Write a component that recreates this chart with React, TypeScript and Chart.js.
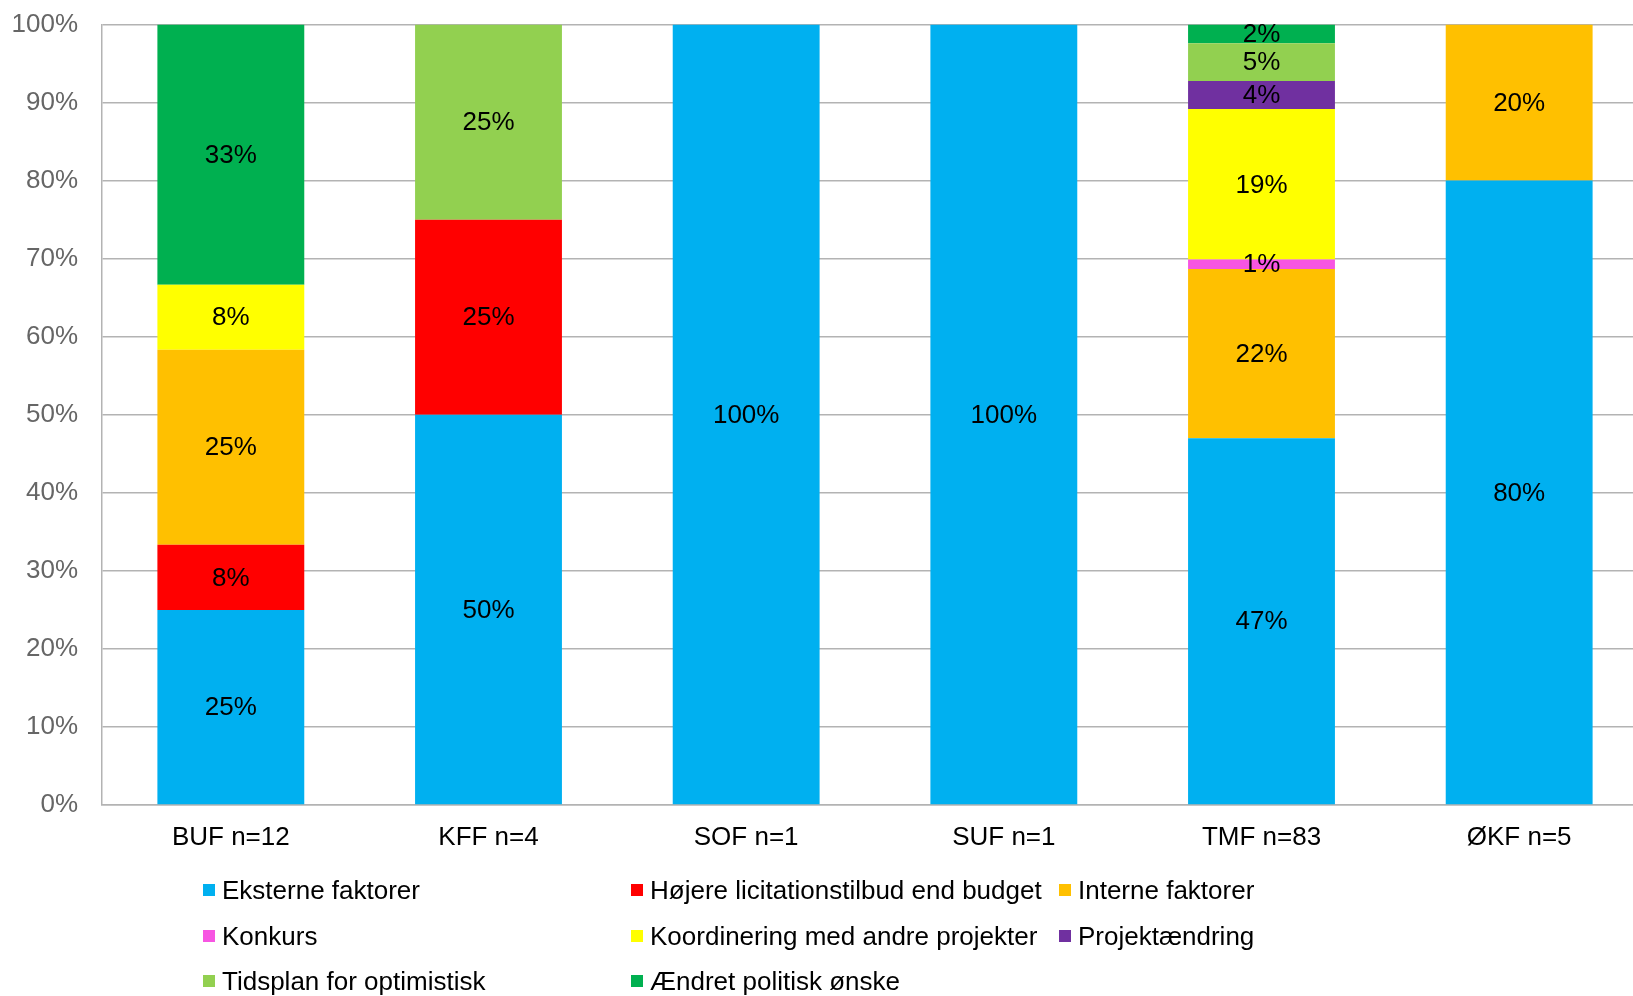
import React, { useEffect, useRef } from "react";
import { Chart, registerables } from "chart.js";

Chart.register(...registerables);

const categories = ["BUF n=12", "KFF n=4", "SOF n=1", "SUF n=1", "TMF n=83", "ØKF n=5"];

const seriesNames = [
  "Eksterne faktorer",
  "Højere licitationstilbud end budget",
  "Interne faktorer",
  "Konkurs",
  "Koordinering med andre projekter",
  "Projektændring",
  "Tidsplan for optimistisk",
  "Ændret politisk ønske",
];

const eksterne = [25, 50, 100, 100, 46.99, 80];
const hoejere = [8.33, 25, 0, 0, 0, 0];
const interne = [25, 0, 0, 0, 21.69, 20];
const konkurs = [0, 0, 0, 0, 1.2, 0];
const koordinering = [8.33, 0, 0, 0, 19.28, 0];
const projektaendring = [0, 0, 0, 0, 3.61, 0];
const tidsplan = [0, 25, 0, 0, 4.82, 0];
const aendret = [33.33, 0, 0, 0, 2.41, 0];

const seriesValues = [eksterne, hoejere, interne, konkurs, koordinering, projektaendring, tidsplan, aendret];

const colors = ["#00B0F0", "#FF0000", "#FFC000", "#F755E2", "#FFFF00", "#7030A0", "#92D050", "#00B050"];

const yTicks = [0, 10, 20, 30, 40, 50, 60, 70, 80, 90, 100];

const FONT = "'Liberation Sans', Arial, Helvetica, sans-serif";

const dataLabelPlugin = {
  id: "dataLabels",
  afterDatasetsDraw(chart: any) {
    const ctx = chart.ctx;
    ctx.save();
    ctx.font = `26px ${FONT}`;
    ctx.fillStyle = "#000";
    ctx.textAlign = "center";
    ctx.textBaseline = "middle";
    chart.data.datasets.forEach((ds: any, di: number) => {
      const meta = chart.getDatasetMeta(di);
      meta.data.forEach((el: any, i: number) => {
        const v = ds.data[i];
        if (!v) return;
        const props = el.getProps(["x", "y", "base"], true);
        ctx.fillText(Math.round(v) + "%", props.x, (props.y + props.base) / 2 + 1);
      });
    });
    ctx.restore();
  },
};

export default function App() {
  const ref = useRef<HTMLCanvasElement>(null);

  useEffect(() => {
    document.body.style.overflow = "hidden";
    const chart = new Chart(ref.current!, {
      type: "bar",
      data: {
        labels: categories,
        datasets: seriesValues.map((vals, i) => ({
          label: seriesNames[i],
          data: vals,
          backgroundColor: colors[i],
          borderWidth: 0,
          barPercentage: 0.57,
          categoryPercentage: 1,
        })),
      },
      options: {
        animation: false,
        responsive: false,
        maintainAspectRatio: false,
        layout: { padding: { top: 24.5, right: 0, bottom: 141, left: 0 } },
        plugins: { legend: { display: false }, tooltip: { enabled: false } },
        scales: {
          x: {
            stacked: true,
            grid: { display: false, drawTicks: false },
            border: { display: true, color: "#b3b3b3", width: 1.5 },
            ticks: { color: "#000", font: { family: FONT, size: 26 }, padding: 17, maxRotation: 0 },
            afterFit: (s: any) => {
              s.height = 50;
              s.paddingLeft = 0;
              s.paddingRight = 0;
            },
          },
          y: {
            stacked: true,
            min: 0,
            max: 100,
            afterBuildTicks: (s: any) => {
              s.ticks = yTicks.map((v) => ({ value: v }));
            },
            grid: { color: "#b3b3b3", lineWidth: 1.5, drawTicks: false },
            border: { display: true, color: "#b3b3b3", width: 1.5 },
            ticks: {
              color: "#666",
              font: { family: FONT, size: 26 },
              padding: 24,
              callback: (v: any) => v + "%",
            },
            afterFit: (s: any) => {
              s.width = 102;
              s.paddingTop = 0;
              s.paddingBottom = 0;
            },
          },
        },
      },
      plugins: [dataLabelPlugin],
    });
    return () => chart.destroy();
  }, []);

  const legendCols = [203, 631, 1059];
  const legendRows = [890, 936, 981];

  return (
    <div style={{ position: "fixed", left: 0, top: 0, width: 1648, height: 996, overflow: "hidden", background: "#fff" }}>
      <canvas ref={ref} width={1648} height={996} style={{ position: "absolute", left: 0, top: 0 }} />
      {seriesNames.map((name, i) => {
        const col = i % 3;
        const row = Math.floor(i / 3);
        return (
          <div
            key={name}
            style={{
              position: "absolute",
              left: legendCols[col],
              top: legendRows[row] - 16,
              height: 32,
              display: "flex",
              alignItems: "center",
              whiteSpace: "nowrap",
              fontFamily: FONT,
              fontSize: 26,
              color: "#000",
            }}
          >
            <span style={{ display: "inline-block", width: 12, height: 12, background: colors[i], marginRight: 7 }} />
            <span>{name}</span>
          </div>
        );
      })}
    </div>
  );
}
